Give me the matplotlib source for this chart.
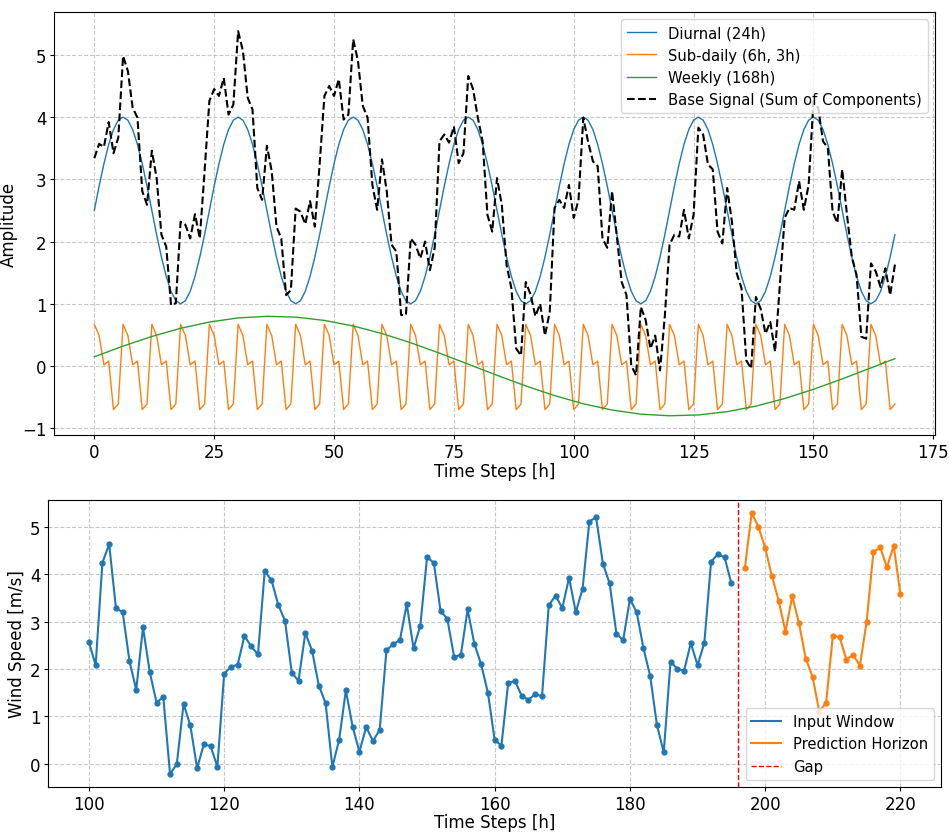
import numpy as np
import matplotlib
matplotlib.use("Agg")
import matplotlib.pyplot as plt

# ---------------- data: top panel ----------------
hours = list(range(168))
diurnal_day = [2.5, 2.89, 3.25, 3.56, 3.8, 3.95, 4.0, 3.95, 3.8, 3.56, 3.25, 2.89,
               2.5, 2.11, 1.75, 1.44, 1.2, 1.05, 1.0, 1.05, 1.2, 1.44, 1.75, 2.11]
diurnal = diurnal_day * 7

sub_daily_cycle = [0.67, 0.49, 0.02, 0.08, -0.70, -0.61]
sub_daily = sub_daily_cycle * 28

weekly_t = [0, 6, 12, 18, 24, 30, 36, 42, 48, 54, 60, 66, 72, 78, 84, 90, 96,
            102, 108, 114, 120, 126, 132, 138, 144, 150, 156, 162, 167]
weekly = [0.149, 0.320, 0.475, 0.606, 0.707, 0.773, 0.799, 0.786, 0.733, 0.644,
          0.522, 0.374, 0.207, 0.030, -0.149, -0.320, -0.475, -0.606, -0.707,
          -0.773, -0.799, -0.786, -0.733, -0.644, -0.522, -0.374, -0.207, -0.030,
          0.119]

base_signal = [
    3.34, 3.57, 3.52, 3.92, 3.42, 3.67, 4.98, 4.74, 4.15, 3.99,
    2.81, 2.59, 3.46, 3.02, 2.11, 1.92, 0.98, 1.01, 2.32, 2.27,
    2.05, 2.44, 2.05, 3.13, 4.26, 4.45, 4.34, 4.63, 4.04, 4.20,
    5.38, 5.06, 4.31, 4.12, 2.86, 2.67, 3.54, 3.13, 2.24, 2.05,
    1.14, 1.22, 2.53, 2.48, 2.28, 2.65, 2.24, 3.24, 4.34, 4.50,
    4.34, 4.61, 3.96, 4.04, 5.25, 4.90, 4.18, 3.99, 2.91, 2.51,
    3.32, 2.81, 1.95, 1.84, 0.82, 0.82, 2.05, 1.95, 1.73, 2.00,
    1.54, 1.90, 3.61, 3.72, 3.59, 3.85, 3.26, 3.42, 4.66, 4.45,
    3.99, 3.61, 2.43, 2.16, 3.02, 2.59, 1.62, 1.25, 0.28, 0.17,
    1.35, 1.15, 0.80, 1.00, 0.49, 0.87, 2.54, 2.67, 2.54, 2.91,
    2.38, 2.67, 3.99, 3.60, 3.29, 3.21, 2.05, 1.90, 2.81, 2.08,
    1.35, 1.14, 0.01, -0.15, 0.95, 0.74, 0.28, 0.49, -0.07, 0.80,
    1.95, 2.11, 2.08, 2.51, 2.05, 2.43, 3.83, 3.72, 3.24, 3.16,
    2.16, 1.97, 2.86, 2.32, 1.49, 1.25, 0.09, -0.04, 1.11, 0.92,
    0.52, 0.71, 0.23, 1.30, 2.38, 2.54, 2.51, 2.97, 2.51, 2.91,
    4.25, 4.15, 3.61, 3.51, 2.48, 2.30, 3.16, 2.43, 1.76, 1.46,
    0.47, 0.44, 1.65, 1.52, 1.27, 1.57, 1.14, 1.63]

# ---------------- data: bottom panel ----------------
input_t = list(range(100, 196))
input_speed = [
    2.57, 2.08, 4.25, 4.64, 3.29, 3.20, 2.17, 1.56, 2.88, 1.94,
    1.29, 1.41, -0.22, -0.01, 1.26, 0.81, -0.10, 0.41, 0.37, -0.07,
    1.90, 2.05, 2.09, 2.70, 2.48, 2.31, 4.07, 3.88, 3.36, 3.02,
    1.92, 1.75, 2.76, 2.39, 1.65, 1.28, -0.07, 0.50, 1.55, 0.78,
    0.25, 0.77, 0.48, 0.71, 2.40, 2.52, 2.62, 3.37, 2.44, 2.91,
    4.36, 4.25, 3.23, 3.06, 2.26, 2.30, 3.26, 2.53, 2.10, 1.50,
    0.50, 0.38, 1.70, 1.75, 1.43, 1.35, 1.47, 1.42, 3.35, 3.55,
    3.29, 3.93, 3.20, 3.70, 5.12, 5.21, 4.23, 3.81, 2.75, 2.61,
    3.48, 3.20, 2.44, 1.85, 0.81, 0.24, 2.15, 2.01, 1.96, 2.55,
    2.08, 2.55, 4.27, 4.43, 4.36, 3.81]
pred_t = list(range(197, 221))
pred_speed = [
    4.14, 5.30, 5.01, 4.56, 3.96, 3.44, 2.79, 3.54, 2.97, 2.22,
    1.84, 1.10, 1.28, 2.70, 2.68, 2.20, 2.30, 2.07, 3.00, 4.47,
    4.58, 4.15, 4.61, 3.58]
gap_t = 196

# ---------------- figure ----------------
plt.rcParams["font.size"] = 12
plt.rcParams["legend.fontsize"] = 10.6
for ax_name in ("xtick", "ytick"):
    plt.rcParams[f"{ax_name}.major.size"] = 2.8
    plt.rcParams[f"{ax_name}.major.pad"] = 2.8
plt.rcParams["axes.labelpad"] = 3

fig = plt.figure(figsize=(9.49, 8.37), dpi=100)
ax1 = fig.add_axes([0.0572, 0.4791, 0.9280, 0.5054])
ax2 = fig.add_axes([0.0509, 0.0585, 0.9407, 0.3430])

ax1.plot(hours, diurnal, color="C0", lw=1.0, label="Diurnal (24h)")
ax1.plot(hours, sub_daily, color="C1", lw=1.0, label="Sub-daily (6h, 3h)")
ax1.plot(weekly_t, weekly, color="C2", lw=1.0, label="Weekly (168h)")
ax1.plot(hours, base_signal, color="black", ls="--", lw=1.5,
         label="Base Signal (Sum of Components)")
ax1.set_xlabel("Time Steps [h]", labelpad=1)
ax1.set_ylabel("Amplitude")
ax1.grid(True, linestyle="--", alpha=0.7)
ax1.legend(loc="upper right")

ax2.plot(input_t, input_speed, color="C0", lw=1.5, label="Input Window")
ax2.plot(input_t, input_speed, color="C0", ls="none", marker="o", ms=3.5)
ax2.plot(pred_t, pred_speed, color="C1", lw=1.5, label="Prediction Horizon")
ax2.plot(pred_t, pred_speed, color="C1", ls="none", marker="o", ms=3.5)
ax2.axvline(gap_t, color="red", ls="--", lw=1.0, label="Gap")
ax2.set_xlabel("Time Steps [h]", labelpad=0)
ax2.set_ylabel("Wind Speed [m/s]")
ax2.grid(True, linestyle="--", alpha=0.7)
ax2.legend(loc="lower right")

fig.savefig("out.png", dpi=100)
